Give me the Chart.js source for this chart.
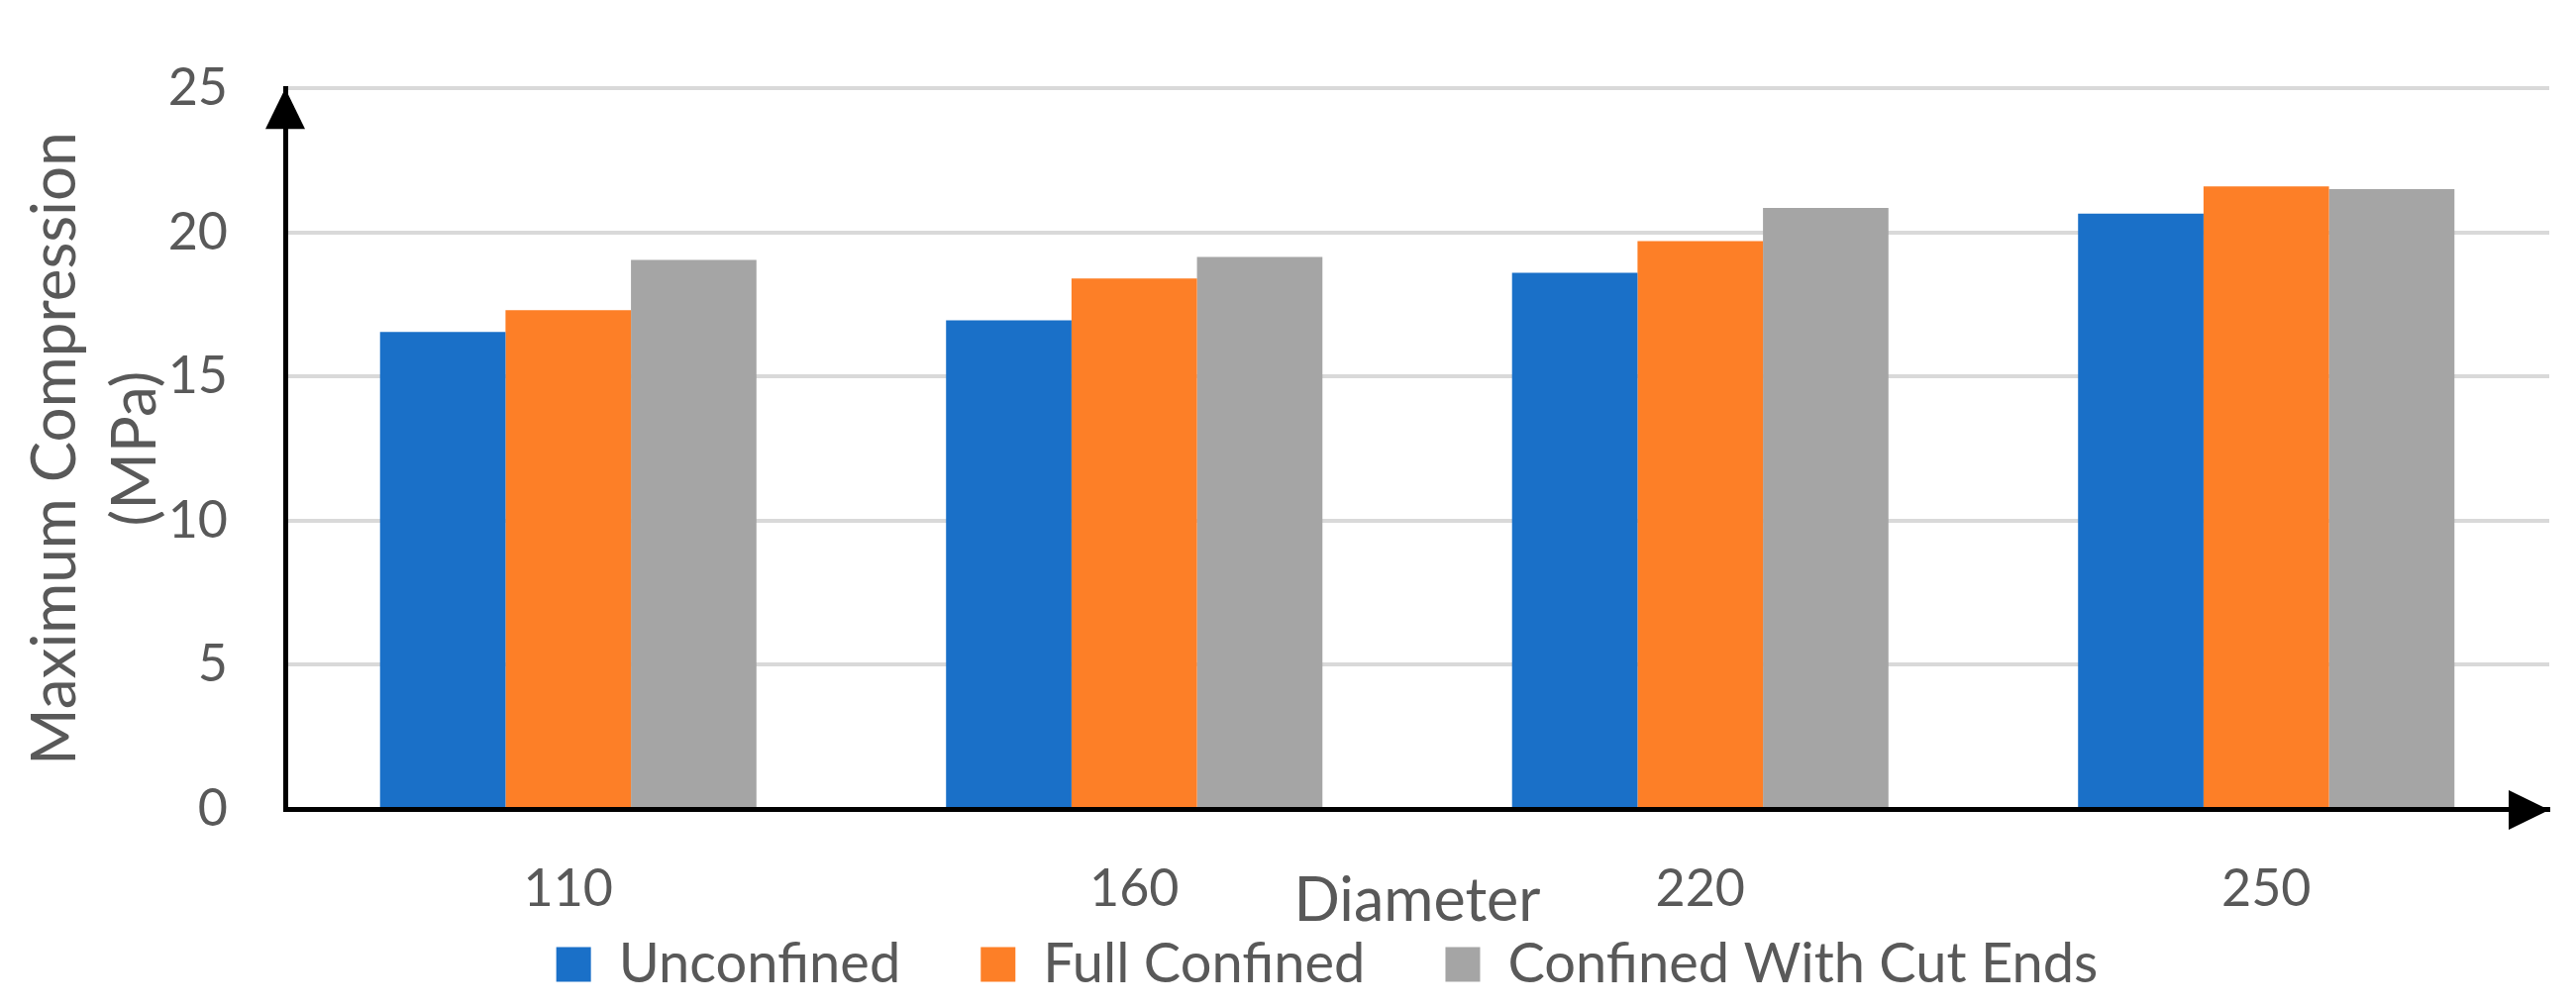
<!DOCTYPE html>
<html>
<head>
<meta charset="utf-8">
<title>Maximum Compression vs Diameter</title>
<script src="https://cdn.jsdelivr.net/npm/chart.js@4.4.1/dist/chart.umd.min.js"></script>
<style>
  html, body { margin: 0; padding: 0; background: #ffffff; }
  #wrap { width: 2601px; height: 1017px; position: relative; }
</style>
</head>
<body>
<div id="wrap"><canvas id="chart"></canvas></div>
<script>
// data
const diameters = ["110", "160", "220", "250"];
const unconfined = [16.55, 16.95, 18.6, 20.65];
const fullConfined = [17.3, 18.4, 19.7, 21.6];
const cutEnds = [19.05, 19.15, 20.85, 21.5];
const yTicks = [0, 5, 10, 15, 20, 25];

const FONT = "Lato, 'Open Sans', sans-serif";
const TEXT_GREY = "#595959";
// wide gap after each legend entry except the last (legend padding also sets the vertical offset)
const LEGEND_GAP = "\u2003\u2002";

// black arrow heads at the ends of both axes
const axisArrows = {
  id: "axisArrows",
  afterDraw(chart) {
    const { ctx, chartArea } = chart;
    const y0 = chart.scales.y.getPixelForValue(0);
    const x0 = chartArea.left;
    ctx.save();
    ctx.fillStyle = "#000000";
    ctx.beginPath();
    ctx.moveTo(x0, chartArea.top);
    ctx.lineTo(x0 - 20, chartArea.top + 41);
    ctx.lineTo(x0 + 20, chartArea.top + 41);
    ctx.closePath();
    ctx.fill();
    ctx.beginPath();
    ctx.moveTo(chartArea.right, y0 + 1);
    ctx.lineTo(chartArea.right - 41, y0 - 19);
    ctx.lineTo(chartArea.right - 41, y0 + 21);
    ctx.closePath();
    ctx.fill();
    ctx.restore();
  }
};

const ctx = document.getElementById("chart").getContext("2d");
new Chart(ctx, {
  type: "bar",
  data: {
    labels: diameters,
    datasets: [
      { label: "Unconfined", data: unconfined, backgroundColor: "#1a70c8", borderWidth: 0 },
      { label: "Full Confined", data: fullConfined, backgroundColor: "#fd7f27", borderWidth: 0 },
      { label: "Confined With Cut Ends", data: cutEnds, backgroundColor: "#a5a5a5", borderWidth: 0 }
    ]
  },
  options: {
    responsive: true,
    maintainAspectRatio: false,
    animation: false,
    layout: { padding: { left: 106, right: 27, top: 47, bottom: 5 } },
    datasets: { bar: { categoryPercentage: 0.665, barPercentage: 1.0 } },
    plugins: {
      tooltip: { enabled: false },
      legend: {
        position: "bottom",
        labels: {
          color: TEXT_GREY,
          font: { family: FONT, size: 56 },
          boxWidth: 35,
          boxHeight: 35,
          padding: 11,
          generateLabels(chart) {
            const items = Chart.defaults.plugins.legend.labels.generateLabels(chart);
            items.forEach((item, i) => {
              if (i < items.length - 1) item.text = item.text + LEGEND_GAP;
            });
            return items;
          }
        }
      }
    },
    scales: {
      x: {
        afterFit(scale) { scale.height = 118; },
        grid: { display: false, drawTicks: false },
        border: { display: true, color: "#000000", width: 5, z: 1 },
        ticks: { color: TEXT_GREY, font: { family: FONT, size: 52 }, padding: 50 },
        title: {
          display: true,
          text: "Diameter",
          color: TEXT_GREY,
          font: { family: FONT, size: 61 },
          padding: { top: 0, bottom: -12 }
        }
      },
      y: {
        min: 0,
        max: 25,
        afterFit(scale) { scale.width = 182; },
        afterBuildTicks(scale) { scale.ticks = yTicks.map(v => ({ value: v })); },
        grid: { color: "#d9d9d9", lineWidth: 4, drawTicks: false },
        border: { display: true, color: "#000000", width: 5, z: 1 },
        ticks: { color: TEXT_GREY, font: { family: FONT, size: 52 }, padding: 58 },
        title: {
          display: true,
          text: ["Maximum Compression", "(MPa)"],
          color: TEXT_GREY,
          font: { family: FONT, size: 62, lineHeight: 1.3 },
          padding: { top: -90, bottom: 0 }
        }
      }
    }
  },
  plugins: [axisArrows]
});
</script>
</body>
</html>
